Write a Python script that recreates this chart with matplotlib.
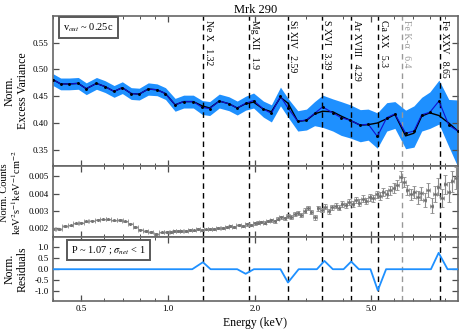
import matplotlib
matplotlib.use("Agg")
import matplotlib.pyplot as plt
from matplotlib.ticker import FixedLocator, FormatStrFormatter, NullFormatter
import numpy as np

plt.rcParams['font.family'] = ['Liberation Serif', 'DejaVu Serif']
plt.rcParams['mathtext.fontset'] = 'stix'

# ---------------- excess variance spectrum (top) ----------------
e_var = [0.40, 0.425, 0.455, 0.489, 0.521, 0.565, 0.605, 0.650, 0.694, 0.745,
         0.794, 0.853, 0.915, 0.978, 1.056, 1.13, 1.22, 1.31, 1.39, 1.50,
         1.62, 1.73, 1.85, 1.97, 2.13, 2.27, 2.44, 2.59, 2.80, 3.00,
         3.20, 3.41, 3.70, 3.95, 4.25, 4.60, 4.90, 5.27, 5.68, 6.06,
         6.6, 7.05, 7.5, 8.0, 8.6, 9.3, 10.0]
var_data = [0.481, 0.473, 0.473, 0.474, 0.464, 0.474, 0.468, 0.459, 0.466, 0.455,
            0.454, 0.4635, 0.462, 0.455, 0.434, 0.440, 0.440, 0.429, 0.427, 0.441,
            0.436, 0.428, 0.437, 0.442, 0.426, 0.418, 0.450, 0.428, 0.403, 0.406,
            0.418, 0.430, 0.419, 0.410, 0.405, 0.396, 0.398, 0.375, 0.410, 0.417,
            0.381, 0.385, 0.4155, 0.420, 0.441, 0.396, 0.385]
var_model = [0.481, 0.473, 0.473, 0.474, 0.464, 0.474, 0.468, 0.459, 0.466, 0.455,
             0.454, 0.4635, 0.462, 0.455, 0.434, 0.440, 0.440, 0.432, 0.428, 0.441,
             0.436, 0.428, 0.436, 0.439, 0.426, 0.421, 0.448, 0.437, 0.403, 0.405,
             0.417, 0.422, 0.421, 0.413, 0.405, 0.396, 0.397, 0.400, 0.408, 0.416,
             0.376, 0.381, 0.413, 0.419, 0.414, 0.400, 0.385]
var_lo = [0.470, 0.462, 0.462, 0.463, 0.453, 0.463, 0.457, 0.448, 0.455, 0.444,
          0.443, 0.452, 0.451, 0.444, 0.422, 0.428, 0.428, 0.416, 0.414, 0.428,
          0.423, 0.415, 0.424, 0.428, 0.411, 0.402, 0.432, 0.411, 0.385, 0.387,
          0.395, 0.392, 0.385, 0.377, 0.372, 0.365, 0.368, 0.353, 0.385, 0.390,
          0.352, 0.355, 0.385, 0.390, 0.398, 0.356, 0.318]
var_hi = [0.492, 0.484, 0.484, 0.485, 0.475, 0.485, 0.479, 0.470, 0.477, 0.466,
          0.465, 0.475, 0.473, 0.466, 0.446, 0.452, 0.452, 0.442, 0.440, 0.454,
          0.449, 0.441, 0.450, 0.456, 0.441, 0.434, 0.467, 0.446, 0.423, 0.426,
          0.440, 0.452, 0.445, 0.440, 0.434, 0.425, 0.426, 0.419, 0.438, 0.440,
          0.424, 0.432, 0.448, 0.458, 0.480, 0.444, 0.443]

# ---------------- count spectrum (middle) ----------------
e_cts = [0.40, 0.42, 0.44, 0.46, 0.48, 0.50, 0.52, 0.545, 0.57, 0.595,
         0.62, 0.65, 0.68, 0.71, 0.74, 0.77, 0.80, 0.835, 0.87, 0.91,
         0.95, 0.99, 1.02, 1.05, 1.08, 1.11, 1.15, 1.19, 1.23, 1.27,
         1.31, 1.35, 1.39, 1.44, 1.49, 1.54, 1.59, 1.64, 1.69, 1.75,
         1.81, 1.87, 1.93, 1.99, 2.04, 2.09, 2.15, 2.21, 2.27, 2.33,
         2.39, 2.45, 2.52, 2.59, 2.66, 2.73, 2.80, 2.88, 2.96, 3.04,
         3.12, 3.21, 3.30, 3.39, 3.48, 3.58, 3.68, 3.78, 3.88, 3.99,
         4.10, 4.21, 4.33, 4.45, 4.57, 4.70, 4.83, 4.96, 5.10, 5.24,
         5.38, 5.53, 5.68, 5.84, 6.00, 6.17, 6.34, 6.51, 6.69, 6.88,
         7.07, 7.27, 7.47, 7.68, 7.89, 8.11, 8.34, 8.57, 8.81, 9.05,
         9.30, 9.56, 9.83]
cts = [0.00196, 0.00195, 0.00212, 0.00216, 0.00228, 0.00233, 0.00240, 0.00243, 0.00249, 0.00251,
       0.00252, 0.00245, 0.00247, 0.00240, 0.00226, 0.00208, 0.00191, 0.00183, 0.00178, 0.00166,
       0.00176, 0.00179, 0.00178, 0.00184, 0.00182, 0.00186, 0.00185, 0.00189, 0.00187, 0.00196,
       0.00190, 0.00193, 0.00195, 0.00197, 0.00201, 0.00199, 0.00207, 0.00211, 0.00209, 0.00216,
       0.00214, 0.00222, 0.00220, 0.00228, 0.00232, 0.00236, 0.00233, 0.00242, 0.00246, 0.00241,
       0.00255, 0.00262, 0.00257, 0.00270, 0.00266, 0.00281, 0.00289, 0.00276, 0.00302, 0.00318,
       0.00295, 0.00262, 0.00314, 0.00305, 0.00325, 0.00298, 0.00322, 0.00330, 0.00318, 0.00340,
       0.00332, 0.00350, 0.00342, 0.00361, 0.00348, 0.00370, 0.00358, 0.00380, 0.00372, 0.00395,
       0.00385, 0.00408, 0.00398, 0.00420, 0.00432, 0.00450, 0.00498, 0.00468, 0.00420, 0.00395,
       0.00410, 0.00378, 0.00402, 0.00365, 0.00420, 0.00330, 0.00395, 0.00440, 0.00372, 0.00455,
       0.00410, 0.00470, 0.00490]
cts_err = [0.00004, 0.00004, 0.00004, 0.00004, 0.00004, 0.00004, 0.00004, 0.00004, 0.00004, 0.00004,
           0.00004, 0.00004, 0.00004, 0.00004, 0.00004, 0.00004, 0.00004, 0.00004, 0.00004, 0.00004,
           0.00004, 0.00004, 0.00005, 0.00005, 0.00005, 0.00005, 0.00005, 0.00005, 0.00005, 0.00005,
           0.00005, 0.00005, 0.00005, 0.00005, 0.00006, 0.00006, 0.00006, 0.00006, 0.00006, 0.00006,
           0.00006, 0.00007, 0.00007, 0.00007, 0.00007, 0.00008, 0.00008, 0.00008, 0.00008, 0.00009,
           0.00009, 0.00009, 0.00010, 0.00010, 0.00010, 0.00011, 0.00011, 0.00011, 0.00012, 0.00012,
           0.00012, 0.00013, 0.00013, 0.00013, 0.00014, 0.00014, 0.00014, 0.00015, 0.00015, 0.00016,
           0.00016, 0.00017, 0.00017, 0.00018, 0.00018, 0.00019, 0.00019, 0.00020, 0.00021, 0.00022,
           0.00023, 0.00024, 0.00025, 0.00026, 0.00027, 0.00028, 0.00030, 0.00030, 0.00031, 0.00033,
           0.00035, 0.00036, 0.00038, 0.00040, 0.00042, 0.00044, 0.00046, 0.00050, 0.00052, 0.00055,
           0.00058, 0.00060, 0.00064]

# ---------------- residuals (bottom) ----------------
e_res = [0.40, 1.21, 1.317, 1.40, 1.73, 1.85, 1.975, 2.44, 2.59, 2.82, 3.26, 3.46,
         3.70, 4.03, 4.28, 4.55, 4.99, 5.29, 5.65, 8.07, 8.58, 9.21, 10.0]
res = [0, 0, 0.32, 0, 0, -0.21, 0, 0, -0.61, 0, 0, 0.38,
       0, 0, 0.35, 0, 0, -0.97, 0, 0, 0.75, 0, 0]

# ---------------- lines ----------------
line_names = ["Ne X", "Mg XII", "Si XIV", "S XVI", "Ar XVIII", "Ca XX", "Fe K-α", "Fe XXV"]
line_energies = [1.32, 1.9, 2.59, 3.39, 4.29, 5.3, 6.4, 8.65]
line_labels = ["1.32", "1.9", "2.59", "3.39", "4.29", "5.3", "6.4", "8.65"]
line_colors = ["k", "k", "k", "k", "k", "k", "0.6", "k"]

band_col = "#1E90FF"

fig = plt.figure(figsize=(4.63, 3.31), dpi=100)
gs = fig.add_gridspec(3, 1, height_ratios=[150, 71, 64], hspace=0,
                      left=0.1145, right=0.989, top=0.952, bottom=0.091)
ax1 = fig.add_subplot(gs[0])
ax2 = fig.add_subplot(gs[1], sharex=ax1)
ax3 = fig.add_subplot(gs[2], sharex=ax1)

# top
ax1.fill_between(e_var, var_lo, var_hi, color=band_col, lw=0, zorder=1)
ax1.plot(e_var, var_model, color="k", lw=1.0, zorder=3)
ax1.plot(e_var, var_data, color="#1010D0", lw=0.8, zorder=4)
ax1.plot(e_var, var_data, "o", color="k", ms=1.1, zorder=5)
ax1.set_ylim(0.32, 0.60)
ax1.set_yticks([0.35, 0.40, 0.45, 0.50, 0.55])
ax1.yaxis.set_major_formatter(FormatStrFormatter("%.2f"))
ax1.set_ylabel("Norm.\nExcess Variance", fontsize=8.5, labelpad=3)
ax1.set_title("Mrk 290", fontsize=9, pad=2)
ax1.text(0.025, 0.92, r"v$_{out}$ ~ 0.25c", transform=ax1.transAxes, fontsize=7.5,
         ha="left", va="center",
         bbox=dict(boxstyle="square,pad=0.4", fc="white", ec="0.35", lw=1.4))

for name, en, lab, col in zip(line_names, line_energies, line_labels, line_colors):
    for ax in (ax1, ax2, ax3):
        ax.axvline(en, color=col, ls=(0, (4, 3)), lw=1.0, zorder=2)
    ax1.text(en * 1.004, 0.592, name + "   " + lab, rotation=270, fontsize=7,
             color=col, ha="left", va="top")

# middle
xerr = np.diff(np.log(e_cts), prepend=np.log(e_cts[0]) - 0.03)
xerr = np.array(e_cts) * xerr / 2
ax2.errorbar(e_cts, cts, yerr=cts_err, xerr=xerr, fmt="o", ms=1.2, color="0.45",
             ecolor="0.55", elinewidth=0.8, capsize=1.5, capthick=0.6, zorder=3)
ax2.set_ylim(0.0015, 0.0056)
ax2.set_yticks([0.002, 0.003, 0.004, 0.005])
ax2.yaxis.set_major_formatter(FormatStrFormatter("%.3f"))
ax2.set_ylabel("Norm. Counts\nkeV$^{2}$s$^{-1}$keV$^{-1}$cm$^{-2}$", fontsize=7.5,
               labelpad=2, linespacing=1.0)
ax2.yaxis.set_label_coords(-0.075, 0.62)

# bottom
ax3.plot(e_res, res, color=band_col, lw=1.3, zorder=3)
ax3.set_ylim(-1.45, 1.48)
ax3.set_yticks([-1.0, -0.5, 0.0, 0.5, 1.0])
ax3.yaxis.set_major_formatter(FormatStrFormatter("%.1f"))
ax3.set_ylabel("Norm.\nResiduals", fontsize=8.5, labelpad=4)
ax3.set_xlabel("Energy (keV)", fontsize=8.5, labelpad=3)
ax3.text(0.045, 0.80, r"P ~ 1.07 ; $\sigma_{net}$ < 1", transform=ax3.transAxes,
         fontsize=7.5, ha="left", va="center",
         bbox=dict(boxstyle="square,pad=0.4", fc="white", ec="0.35", lw=1.4))

ax1.set_xscale("log")
ax1.set_xlim(0.4, 10.0)
ax3.xaxis.set_major_locator(FixedLocator([0.5, 1.0, 2.0, 5.0]))
ax3.xaxis.set_minor_locator(FixedLocator([0.4, 0.6, 0.7, 0.8, 0.9, 3, 4, 6, 7, 8, 9]))
ax3.xaxis.set_major_formatter(FormatStrFormatter("%.1f"))
ax3.xaxis.set_minor_formatter(NullFormatter())

for ax in (ax1, ax2, ax3):
    ax.tick_params(which="both", direction="in", top=True, right=True,
                   labelsize=6.5, color="0.3", pad=3)
    ax.tick_params(which="major", length=4, width=0.9)
    ax.tick_params(which="minor", length=2.5, width=0.7)
    for sp in ax.spines.values():
        sp.set_color("0.4")
        sp.set_linewidth(1.2)
for ax in (ax1, ax2):
    plt.setp(ax.get_xticklabels(), visible=False)

fig.savefig("out.png", dpi=100)
